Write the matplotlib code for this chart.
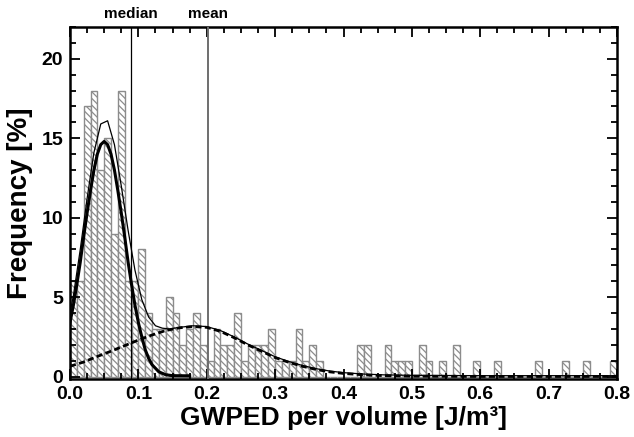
import numpy as np
import matplotlib
matplotlib.use('Agg')
import matplotlib.pyplot as plt
from matplotlib.ticker import MultipleLocator

# Histogram: bins of 0.01 from 0.0 to 0.8, heights in %
bin_width = 0.01
freq = [6, 6, 17, 18, 13, 15, 9, 18, 6, 6,
        8, 4, 3, 3, 5, 4, 2, 3, 4, 2,
        1, 3, 2, 2, 4, 1, 2, 2, 2, 3,
        1, 1, 1, 3, 1, 2, 1, 0, 0, 0,
        0, 0, 2, 2, 0, 0, 2, 1, 1, 1,
        0, 2, 1, 0, 1, 0, 2, 0, 0, 1,
        0, 0, 1, 0, 0, 0, 0, 0, 1, 0,
        0, 0, 1, 0, 0, 1, 0, 0, 0, 1]
bin_left = np.arange(len(freq)) * bin_width

# first fitted peak (thick line)
peak1_x = [0.0, 0.005, 0.01, 0.015, 0.02, 0.025, 0.03, 0.035, 0.04, 0.045,
           0.05, 0.055, 0.06, 0.065, 0.07, 0.075, 0.08, 0.085, 0.09, 0.095,
           0.10, 0.105, 0.11, 0.115, 0.12, 0.13, 0.14, 0.15, 0.175]
peak1_y = [3.4, 4.5, 5.8, 7.2, 8.8, 10.3, 11.7, 13.0, 14.0, 14.6,
           14.8, 14.6, 14.0, 13.0, 11.7, 10.3, 8.8, 7.2, 5.8, 4.5,
           3.4, 2.5, 1.7, 1.15, 0.75, 0.3, 0.12, 0.06, 0.05]

# second fitted peak (dashed line)
peak2_x = [0.0, 0.02, 0.04, 0.06, 0.08, 0.10, 0.12, 0.14, 0.16, 0.18,
           0.20, 0.22, 0.24, 0.26, 0.28, 0.30, 0.32, 0.34, 0.36, 0.38,
           0.40, 0.43, 0.46, 0.50, 0.55, 0.60, 0.70, 0.80]
peak2_y = [0.65, 0.92, 1.27, 1.6, 1.95, 2.3, 2.62, 2.9, 3.07, 3.15,
           3.1, 2.85, 2.45, 2.0, 1.6, 1.2, 0.9, 0.65, 0.45, 0.3,
           0.2, 0.11, 0.06, 0.03, 0.02, 0.01, 0.01, 0.01]

# sum of both peaks (thin line)
sum_x = [0.0, 0.005, 0.015, 0.025, 0.035, 0.045, 0.055, 0.065, 0.075, 0.085,
         0.095, 0.105, 0.115, 0.125, 0.135, 0.145, 0.16, 0.18, 0.20, 0.22,
         0.24, 0.26, 0.28, 0.30, 0.32, 0.34, 0.36, 0.38, 0.40, 0.43,
         0.46, 0.50, 0.55, 0.60, 0.70, 0.80]
sum_y = [4.0, 5.1, 8.0, 11.2, 14.1, 15.9, 16.1, 14.6, 12.0, 9.2,
         6.7, 4.85, 3.75, 3.2, 3.05, 3.0, 3.1, 3.2, 3.15, 2.9,
         2.5, 2.05, 1.65, 1.25, 0.95, 0.7, 0.5, 0.35, 0.25, 0.16,
         0.11, 0.08, 0.07, 0.06, 0.06, 0.06]

median_val = 0.0895
mean_val = 0.202

plt.rcParams['font.family'] = ['Liberation Sans', 'DejaVu Sans']
plt.rcParams['font.weight'] = 'bold'
plt.rcParams['hatch.linewidth'] = 0.9

fig = plt.figure(figsize=(6.34, 4.37), dpi=100)
ax = fig.add_axes([0.1104, 0.1327, 0.8628, 0.8055])

ax.bar(bin_left, freq, width=bin_width, align='edge', color='white',
       edgecolor='#8c8c8c', hatch='\\\\\\\\\\', linewidth=1.0, zorder=1)

ax.axvline(median_val, color='black', lw=0.9, zorder=3)
ax.axvline(mean_val, color='#6e6e6e', lw=1.4, zorder=3)

ax.plot(sum_x, sum_y, color='black', lw=0.9, zorder=4)
ax.plot(peak1_x, peak1_y, color='black', lw=2.2, zorder=5)
ax.plot(peak2_x, peak2_y, color='black', lw=2.0, ls=(0, (2.2, 1.2)), zorder=5)

ax.text(median_val, 1.037, 'median', transform=ax.get_xaxis_transform(),
        ha='center', va='center', fontsize=11, fontweight='bold')
ax.text(mean_val, 1.037, 'mean', transform=ax.get_xaxis_transform(),
        ha='center', va='center', fontsize=11, fontweight='bold')

ax.set_xlim(0, 0.8)
ax.set_ylim(-0.15, 22)
ax.xaxis.set_major_locator(MultipleLocator(0.1))
ax.xaxis.set_minor_locator(MultipleLocator(0.025))
ax.yaxis.set_major_locator(MultipleLocator(5))
ax.yaxis.set_minor_locator(MultipleLocator(1))
ax.set_xticks(np.arange(0, 0.81, 0.1))
ax.set_xticklabels(['%.1f' % v for v in np.arange(0, 0.81, 0.1)])

ax.tick_params(which='both', direction='in', top=True, right=True, width=1.3)
ax.tick_params(which='major', length=7, labelsize=14, pad=5)
ax.tick_params(which='minor', length=4)
for s in ax.spines.values():
    s.set_linewidth(1.8)

ax.set_xlabel('GWPED per volume [J/m³]', fontsize=19, fontweight='bold', labelpad=2)
ax.set_ylabel('Frequency [%]', fontsize=20, fontweight='bold', labelpad=6)

fig.savefig('out.png', dpi=100)
